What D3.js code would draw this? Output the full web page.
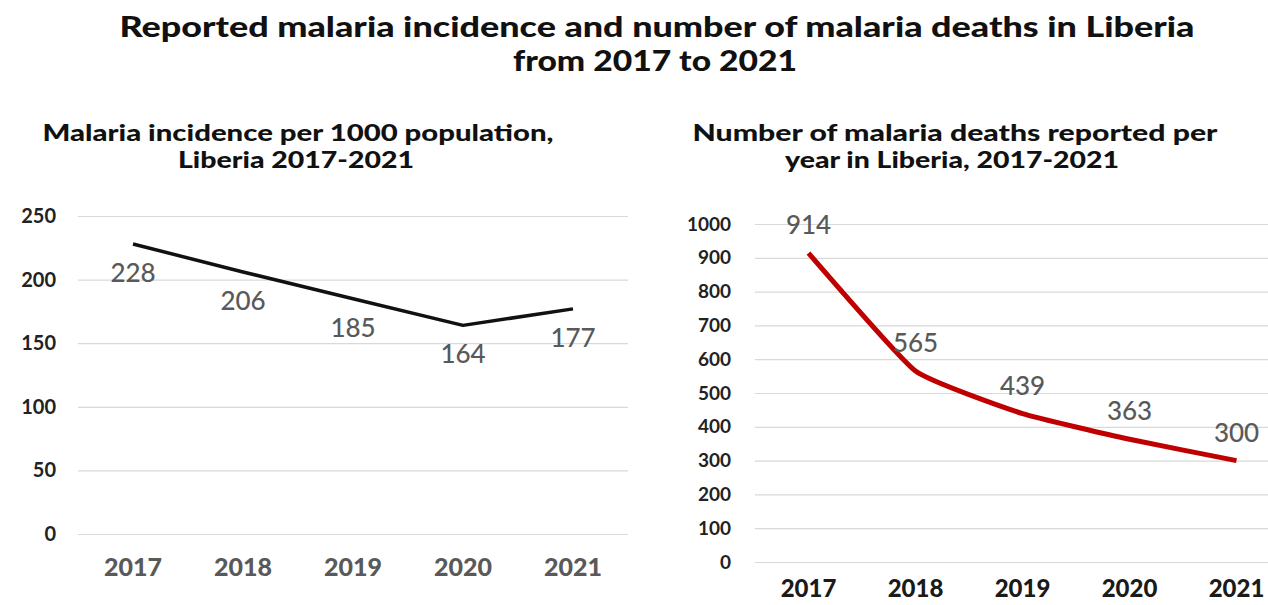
<!DOCTYPE html>
<html>
<head>
<meta charset="utf-8">
<script src="https://cdn.jsdelivr.net/npm/d3@7"></script>
<style>
  html, body { margin: 0; padding: 0; background: #fff; }
  svg { display: block; }
</style>
</head>
<body>
<svg id="chart" width="1268" height="605"></svg>
<script>
// data
const years = ['2017', '2018', '2019', '2020', '2021']
const incidence = [228, 206, 185, 164, 177]
const deaths = [914, 565, 439, 363, 300]
const incidenceTicks = [0, 50, 100, 150, 200, 250]
const deathTicks = [0, 100, 200, 300, 400, 500, 600, 700, 800, 900, 1000]

const titleFont = 'Lato, "DejaVu Sans", sans-serif'
const labelFont = 'Lato, "Open Sans", sans-serif'

const svg = d3.select('#chart')

// text stretched to the width it takes in the source picture
function heading(cx, y, size, width, txt) {
  svg.append('text')
    .attr('x', cx).attr('y', y)
    .attr('text-anchor', 'middle')
    .attr('textLength', width)
    .attr('lengthAdjust', 'spacingAndGlyphs')
    .style('font', `900 ${size}px ${titleFont}`)
    .style('fill', '#111')
    .text(txt)
}

heading(657, 37, 29, 1075, 'Reported malaria incidence and number of malaria deaths in Liberia')
heading(655, 71, 29, 284, 'from 2017 to 2021')

heading(298, 141, 22, 511, 'Malaria incidence per 1000 population,')
heading(296, 168, 22, 236, 'Liberia 2017-2021')
heading(955, 141, 22, 525, 'Number of malaria deaths reported per')
heading(952, 168, 22, 334, 'year in Liberia, 2017-2021')

function drawPanel(opt) {
  const g = svg.append('g')
  const x = d3.scaleBand().domain(years).range([opt.x0, opt.x1])
  const y = d3.scaleLinear().domain([0, opt.max]).range([opt.y0, opt.y1])

  // gridlines
  const grid = d3.axisLeft(y).tickValues(opt.ticks).tickSize(-(opt.x1 - opt.x0)).tickFormat('')
  g.append('g')
    .attr('transform', `translate(${opt.x0},0)`)
    .call(grid)
    .call(s => s.select('.domain').remove())
    .call(s => s.selectAll('line').attr('stroke', '#d9d9d9').attr('stroke-width', 1.2))

  // y tick labels
  const yAxis = d3.axisLeft(y).tickValues(opt.ticks).tickSize(0).tickPadding(opt.yPad).tickFormat(d3.format('d'))
  g.append('g')
    .attr('transform', `translate(${opt.x0},0)`)
    .call(yAxis)
    .call(s => s.select('.domain').remove())
    .call(s => s.selectAll('text')
      .style('font', `bold ${opt.yFont}px ${titleFont}`)
      .style('fill', '#222'))

  // x tick labels
  const xAxis = d3.axisBottom(x).tickSize(0).tickPadding(opt.xPad)
  g.append('g')
    .attr('transform', `translate(0,${opt.y0})`)
    .call(xAxis)
    .call(s => s.select('.domain').remove())
    .call(s => s.selectAll('text')
      .style('font', `900 ${opt.xFont}px ${labelFont}`)
      .style('fill', opt.xColor))

  const cx = d => x(d) + x.bandwidth() / 2
  const line = d3.line()
    .x((d, i) => cx(years[i]))
    .y(d => y(d))
    .curve(opt.curve)

  g.append('path')
    .datum(opt.values)
    .attr('d', line)
    .attr('fill', 'none')
    .attr('stroke', opt.color)
    .attr('stroke-width', opt.width)
    .attr('stroke-linejoin', 'round')

  g.selectAll('.val').data(opt.values).enter().append('text')
    .attr('class', 'val')
    .attr('x', (d, i) => cx(years[i]))
    .attr('y', d => y(d) + opt.labelDy)
    .attr('text-anchor', 'middle')
    .style('font', `500 ${opt.labelFont}px ${labelFont}`)
    .style('fill', '#595959')
    .text(d => d)
}

drawPanel({
  values: incidence, ticks: incidenceTicks, max: 250,
  x0: 78, x1: 628, y0: 534, y1: 216,
  yPad: 22, yFont: 20, xPad: 24, xFont: 25, xColor: '#595959',
  color: '#111', width: 3.5, curve: d3.curveLinear,
  labelDy: 38, labelFont: 26
})

drawPanel({
  values: deaths, ticks: deathTicks, max: 1000,
  x0: 755, x1: 1290, y0: 562, y1: 224,
  yPad: 24, yFont: 19, xPad: 18, xFont: 24, xColor: '#1a1a1a',
  color: '#c00000', width: 5, curve: d3.curveCardinal.tension(0.6),
  labelDy: -19, labelFont: 26
})
</script>
</body>
</html>
